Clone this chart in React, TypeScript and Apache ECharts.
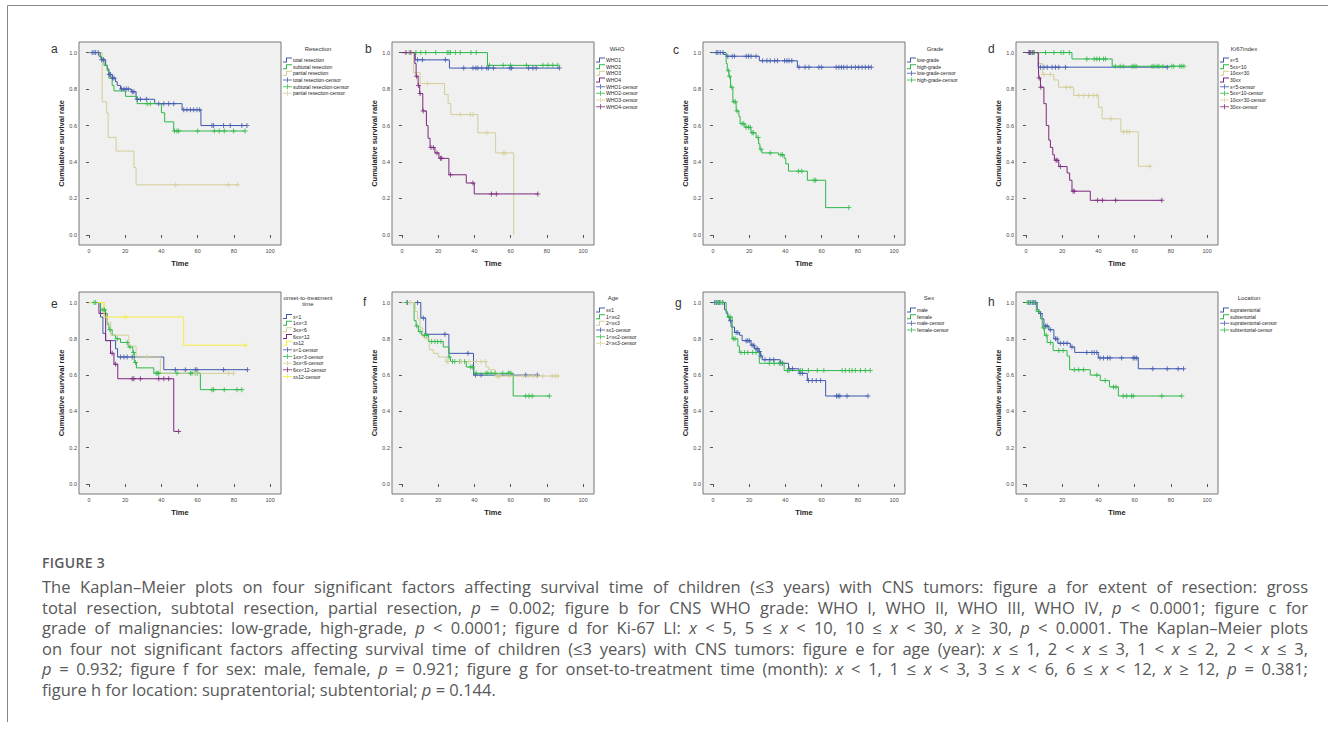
import React, { useEffect, useRef } from 'react';
import * as echarts from 'echarts';

// ---------- tick values ----------
const TIME_TICKS = [0, 20, 40, 60, 80, 100];
const RATE_TICKS = [0, 0.2, 0.4, 0.6, 0.8, 1.0];

// ---------- a: Resection ----------
const aTotalT = [0, 5.5, 6.8, 9.2, 10.1, 11, 12.8, 14.7, 15.6, 17.4, 23.4, 26, 36.3, 51.4, 61.8];
const aTotalS = [1, 0.98, 0.96, 0.93, 0.91, 0.88, 0.86, 0.84, 0.82, 0.8, 0.785, 0.744, 0.72, 0.686, 0.6];
const aTotalC = [1.8, 2.8, 3.7, 5.1, 7.0, 7.9, 11.2, 11.9, 13.0, 13.8, 18, 19.3, 20.6, 21.7, 23.9, 24.8, 26.6, 28.4, 31.7, 38.5, 41.3, 44, 46.8, 52.3, 54.1, 56, 57.8, 59.6, 61.1, 67.9, 68.8, 74.3, 78, 84.4, 87.2];
const aSubT = [0, 6.4, 8.3, 10.1, 11, 12.8, 13.8, 20.2, 26.6, 40, 41.8, 46.8];
const aSubS = [1, 0.97, 0.93, 0.9, 0.86, 0.82, 0.79, 0.76, 0.72, 0.67, 0.62, 0.57];
const aSubC = [32.1, 33.9, 47.2, 48.6, 49.5, 60, 69.2, 71.9, 74.7, 79.8, 86.2];
const aPartT = [0, 7.3, 9.7, 10.6, 15, 24.8, 26];
const aPartS = [1, 0.73, 0.67, 0.535, 0.46, 0.37, 0.275];
const aPartC = [47.7, 77, 82];

// ---------- b: WHO ----------
const bW1T = [0, 7.3, 26.2];
const bW1S = [1, 0.96, 0.915];
const bW1C = [8.6, 11.3, 24, 34.1, 39.2, 40.8, 41.9, 44.1, 46.8, 47.7, 50.5, 59.6, 60.5, 69.9, 72.3, 74.1, 86.9];
const bW2T = [0, 47.2];
const bW2S = [1, 0.93];
const bW2C = [4, 7.7, 10.4, 13.1, 18.6, 25, 25.9, 26.8, 29.5, 32.2, 38.1, 41, 48.3, 55.9, 59.9, 68.7, 77.8, 80.5, 83.2, 86];
const bW3T = [0, 6.4, 10, 23.5, 25.5, 27, 41.9, 51.7, 61.7];
const bW3S = [1, 0.89, 0.83, 0.77, 0.72, 0.66, 0.56, 0.45, 0];
const bW3C = [4.5, 14, 32.2, 37.7, 39.2, 46.8, 55.9, 56.8];
const bW4T = [0, 7.1, 7.8, 8.9, 9.8, 11.5, 13.5, 14.4, 15.5, 18.2, 20.4, 25.9, 35.5, 39.9];
const bW4S = [1, 0.94, 0.87, 0.82, 0.775, 0.68, 0.6, 0.53, 0.48, 0.45, 0.42, 0.33, 0.285, 0.225];
const bW4C = [2.2, 4.9, 8.0, 9.1, 10.0, 11.7, 16.0, 17.3, 19.3, 21.3, 21.9, 26.8, 39.2, 49.4, 52.1, 75];

// ---------- c: Grade ----------
const cLowT = [0, 5.9, 7.3, 25.6, 46.6];
const cLowS = [1, 0.99, 0.98, 0.955, 0.92];
const cLowC = [1.8, 2.7, 4, 5.5, 8.2, 10.6, 11.9, 18.3, 19.6, 21, 23.8, 27.4, 29.8, 31.6, 34, 35.6, 39.5, 40.8, 42, 43.5, 47.5, 50.8, 53, 58.5, 60, 68, 69.5, 70.9, 72.2, 74, 76.4, 78.6, 80.4, 82.3, 84.1, 85.9, 87.4];
const cHighT = [0, 7.3, 7.9, 8.8, 9.7, 11, 12.8, 14.3, 15, 17.7, 21, 23.8, 25.2, 25.9, 27, 36.2, 39.3, 40.2, 41.7, 52.1, 62.2];
const cHighS = [1, 0.94, 0.9, 0.87, 0.81, 0.73, 0.68, 0.65, 0.61, 0.59, 0.56, 0.535, 0.5, 0.47, 0.45, 0.44, 0.42, 0.39, 0.35, 0.3, 0.15];
const cHighC = [8.6, 9.1, 10.4, 11.5, 12.4, 13.3, 16.1, 17, 18.3, 19.6, 20.5, 21.6, 22.3, 24.9, 26.5, 31.6, 37.5, 38.4, 47.2, 49, 55.8, 56.7, 75];

// ---------- d: Ki67index ----------
const dLt5T = [0, 6.8];
const dLt5S = [1, 0.92];
const dLt5C = [1.6, 2.6, 4.4, 8, 9.9, 11.7, 14.4, 16.3, 18.1, 21.8, 78];
const d5to10T = [0, 25.4, 47.6];
const d5to10S = [1, 0.965, 0.925];
const d5to10C = [2.6, 4.4, 10.8, 15.4, 19.4, 20.8, 23.9, 33.6, 37.7, 39.1, 40.6, 42.8, 43.9, 49.3, 52, 53.7, 58.6, 59.7, 60.8, 69.6, 70.7, 72.4, 73.4, 75.6, 80.5, 81.6, 84.9, 86, 87.2];
const d10to30T = [0, 7.1, 9, 15.4, 18, 26.3, 40, 42, 52.4, 62];
const d10to30S = [1, 0.94, 0.88, 0.85, 0.81, 0.765, 0.7, 0.637, 0.566, 0.377];
const d10to30C = [9.9, 13.5, 22.3, 24.5, 29.1, 31.8, 34.6, 37.3, 39.1, 47, 53.8, 55.7, 57.1, 68.5];
const d30T = [0, 6.8, 7.1, 8, 9.9, 11.2, 12.6, 13.5, 14.8, 15.7, 18.1, 22.7, 24.1, 25.4, 35.5];
const d30S = [1, 0.93, 0.86, 0.81, 0.72, 0.6, 0.52, 0.48, 0.44, 0.41, 0.375, 0.34, 0.3, 0.24, 0.19];
const d30C = [2, 3.5, 7.3, 8.2, 16.6, 17.2, 19, 26, 26.7, 39.5, 42.2, 49.5, 75];

// ---------- e: onset-to-treatment time ----------
const eLt1T = [0, 6.4, 7.7, 9.2, 14.7, 15.8, 41.3];
const eLt1S = [1, 0.92, 0.83, 0.79, 0.745, 0.7, 0.63];
const eLt1C = [17.4, 19.3, 21.1, 23.9, 47.7, 53.2, 58.7, 59.6, 74.3, 87.5];
const e1to3T = [0, 6.4, 9.2, 10.1, 11, 12.8, 14.7, 17.4, 21.7, 24.2, 25, 26.2, 35.8, 61.5];
const e1to3S = [1, 0.96, 0.94, 0.88, 0.85, 0.82, 0.8, 0.78, 0.755, 0.725, 0.67, 0.64, 0.61, 0.52];
const e1to3C = [2.8, 3.7, 7.7, 8.6, 11.6, 15.6, 21.1, 22.6, 24.6, 25.7, 37.1, 38, 38.5, 48.6, 56, 56.9, 58.7, 60, 67.9, 68.8, 74.7, 81.7, 84.4];
const e3to6T = [0, 8.3, 10.1, 12, 22, 26, 39.4];
const e3to6S = [1, 0.92, 0.89, 0.82, 0.76, 0.7, 0.61];
const e3to6C = [32.1, 58.7, 59.6, 77, 79.8];
const e6to12T = [0, 5.5, 9.2, 11.9, 13.8, 15.9, 46.8];
const e6to12S = [1, 0.94, 0.79, 0.72, 0.66, 0.58, 0.29];
const e6to12C = [12.8, 14.7, 23.9, 24.8, 28.4, 38.5, 41.3, 44, 49.5];
const eGe12T = [0, 8.3, 52.3];
const eGe12S = [1, 0.92, 0.765];
const eGe12C = [20.2, 86.6];

// ---------- f: Age ----------
const fLe1T = [0, 10.4, 13.1, 25.9, 39.5];
const fLe1S = [1, 0.915, 0.825, 0.72, 0.6];
const fLe1C = [3.1, 8.6, 11.8, 23.7, 36.4, 40.6, 43.7, 68.3, 74.7];
const f1to2T = [0, 6.7, 7.8, 9.1, 10.9, 14.6, 22.8, 25.9, 26.8, 35.5, 39.7, 61.4];
const f1to2S = [1, 0.9, 0.87, 0.84, 0.82, 0.785, 0.755, 0.7, 0.675, 0.645, 0.61, 0.485];
const f1to2C = [2.7, 8.2, 10, 12.4, 13.7, 16.4, 18.2, 19.7, 21.5, 26, 27.9, 29.1, 31.9, 34.6, 37.9, 38.8, 41, 46.4, 47.4, 49.2, 51.4, 55.6, 58.7, 59.2, 60.1, 68.3, 70.1, 71.9, 81.4];
const f2to3T = [0, 7.3, 8.6, 10, 11.5, 12.8, 15.1, 17.3, 20, 24.2, 46.4, 47.9, 51.4];
const f2to3S = [1, 0.95, 0.91, 0.86, 0.81, 0.8, 0.74, 0.72, 0.7, 0.675, 0.645, 0.63, 0.595];
const f2to3C = [4.6, 25, 25.5, 32.8, 37, 41, 43.7, 46.1, 52.5, 53.2, 54.1, 59.2, 67, 69.6, 72.3, 74.1, 77.8, 82.9, 84.7, 86.2];

// ---------- g: Sex ----------
const gMaleT = [0, 6.4, 7.3, 8.2, 9.1, 10, 11.9, 14.6, 16.1, 21, 22.9, 25.4, 26.3, 27.2, 37.1, 41.7, 47.5, 52.1, 62.2];
const gMaleS = [1, 0.96, 0.94, 0.92, 0.9, 0.865, 0.835, 0.82, 0.79, 0.765, 0.745, 0.73, 0.705, 0.685, 0.665, 0.635, 0.61, 0.57, 0.485];
const gMaleC = [0.9, 1.8, 2.7, 3.7, 5.5, 9.7, 12.8, 13.7, 18.3, 19.2, 20.1, 21.6, 22.5, 23.8, 24.7, 25.6, 26.5, 28.7, 31.4, 33.5, 37.5, 38.4, 42, 43.9, 48.1, 49.4, 52.7, 54.8, 57, 59.4, 68.2, 69.1, 70, 74, 85.6];
const gFemT = [0, 7.3, 8.1, 10.6, 13.7, 14.6, 25.6, 39.3];
const gFemS = [1, 0.95, 0.92, 0.8, 0.76, 0.725, 0.665, 0.625];
const gFemC = [1.8, 3.1, 4, 5.1, 8.8, 9.5, 11.3, 12.2, 15.5, 17.4, 19.2, 21.9, 23.8, 31.1, 33.8, 36.6, 38.4, 41.1, 42, 48.4, 49.4, 52.7, 57.6, 61.2, 71.3, 73.1, 75.3, 76.8, 78.6, 81.4, 84.1, 86.8];

// ---------- h: Location ----------
const hSupT = [0, 6.2, 7.1, 8.9, 9.9, 12.6, 15.4, 17.6, 24.5, 26.9, 39.9, 62];
const hSupS = [1, 0.96, 0.94, 0.91, 0.87, 0.85, 0.8, 0.775, 0.755, 0.725, 0.695, 0.635];
const hSupC = [1.6, 2.6, 3.5, 4.4, 5.3, 8, 10.8, 11.7, 13.5, 16.3, 17.2, 19, 20.8, 22.7, 25.4, 33.6, 36.4, 37.7, 39.1, 40.9, 42.8, 45, 46.4, 52.8, 59.2, 60.1, 61.1, 70, 78, 84, 87];
const hSubT = [0, 5.7, 8, 9, 10.2, 11.7, 15, 22.7, 24.1, 35.5, 41, 46.1, 51];
const hSubS = [1, 0.95, 0.91, 0.86, 0.82, 0.78, 0.735, 0.705, 0.63, 0.6, 0.57, 0.535, 0.485];
const hSubC = [0.7, 1.6, 4.4, 7.1, 9.9, 11.2, 13.5, 18.1, 20.5, 26.7, 29.1, 31.8, 39.1, 43.7, 48.3, 49.7, 53.7, 55.6, 58.3, 59.2, 75, 86];

// ---------- styles ----------
const BLUE = '#3E58AC';
const GREEN = '#2EB848';
const TAN = '#D3CE97';
const PURPLE = '#7C287D';
const YELLOW = '#F3EE3A';
const FONT = '"Liberation Sans", Arial, sans-serif';

type Group = { name: string; color: string; t: number[]; s: number[]; c: number[] };
type Panel = {
  letter: string; title: string; col: number; row: number; groups: Group[];
  letterX: number; letterY: number; titleX: number; titleY: number; legendTop: number;
};

const panels: Panel[] = [
  { letter: 'a', title: 'Resection', col: 0, row: 0, letterX: 55, letterY: 50, titleX: 318, titleY: 49, legendTop: 57.5, groups: [
    { name: 'total resection', color: BLUE, t: aTotalT, s: aTotalS, c: aTotalC },
    { name: 'subtotal resection', color: GREEN, t: aSubT, s: aSubS, c: aSubC },
    { name: 'partial resection', color: TAN, t: aPartT, s: aPartS, c: aPartC },
  ] },
  { letter: 'b', title: 'WHO', col: 1, row: 0, letterX: 369, letterY: 50, titleX: 617, titleY: 49, legendTop: 57.5, groups: [
    { name: 'WHO1', color: BLUE, t: bW1T, s: bW1S, c: bW1C },
    { name: 'WHO2', color: GREEN, t: bW2T, s: bW2S, c: bW2C },
    { name: 'WHO3', color: TAN, t: bW3T, s: bW3S, c: bW3C },
    { name: 'WHO4', color: PURPLE, t: bW4T, s: bW4S, c: bW4C },
  ] },
  { letter: 'c', title: 'Grade', col: 2, row: 0, letterX: 677, letterY: 51, titleX: 935, titleY: 49, legendTop: 57.5, groups: [
    { name: 'low-grade', color: BLUE, t: cLowT, s: cLowS, c: cLowC },
    { name: 'high-grade', color: GREEN, t: cHighT, s: cHighS, c: cHighC },
  ] },
  { letter: 'd', title: 'Ki67index', col: 3, row: 0, letterX: 992, letterY: 50, titleX: 1244, titleY: 49, legendTop: 57.5, groups: [
    { name: 'x<5', color: BLUE, t: dLt5T, s: dLt5S, c: dLt5C },
    { name: '5≤x<10', color: GREEN, t: d5to10T, s: d5to10S, c: d5to10C },
    { name: '10≤x<30', color: TAN, t: d10to30T, s: d10to30S, c: d10to30C },
    { name: '30≤x', color: PURPLE, t: d30T, s: d30S, c: d30C },
  ] },
  { letter: 'e', title: 'onset-to-treatment\ntime', col: 0, row: 1, letterX: 55, letterY: 305, titleX: 308, titleY: 301, legendTop: 314, groups: [
    { name: 'x<1', color: BLUE, t: eLt1T, s: eLt1S, c: eLt1C },
    { name: '1≤x<3', color: GREEN, t: e1to3T, s: e1to3S, c: e1to3C },
    { name: '3≤x<6', color: TAN, t: e3to6T, s: e3to6S, c: e3to6C },
    { name: '6≤x<12', color: PURPLE, t: e6to12T, s: e6to12S, c: e6to12C },
    { name: 'x≥12', color: YELLOW, t: eGe12T, s: eGe12S, c: eGe12C },
  ] },
  { letter: 'f', title: 'Age', col: 1, row: 1, letterX: 367, letterY: 303, titleX: 613, titleY: 298, legendTop: 307.5, groups: [
    { name: 'x≤1', color: BLUE, t: fLe1T, s: fLe1S, c: fLe1C },
    { name: '1<x≤2', color: GREEN, t: f1to2T, s: f1to2S, c: f1to2C },
    { name: '2<x≤3', color: TAN, t: f2to3T, s: f2to3S, c: f2to3C },
  ] },
  { letter: 'g', title: 'Sex', col: 2, row: 1, letterX: 679, letterY: 304, titleX: 929, titleY: 298, legendTop: 307.5, groups: [
    { name: 'male', color: BLUE, t: gMaleT, s: gMaleS, c: gMaleC },
    { name: 'female', color: GREEN, t: gFemT, s: gFemS, c: gFemC },
  ] },
  { letter: 'h', title: 'Location', col: 3, row: 1, letterX: 992, letterY: 303, titleX: 1249, titleY: 298, legendTop: 307.5, groups: [
    { name: 'supratentorial', color: BLUE, t: hSupT, s: hSupS, c: hSupC },
    { name: 'subtentorial', color: GREEN, t: hSubT, s: hSubS, c: hSubC },
  ] },
];

const COL_LEFT = [79, 392, 703, 1016];
const ROW_TOP = [42, 292];
const ROW_H = [203, 202];
const PLOT_W = 202;

const PLUS = 'path://M0,4L10,4L10,6L0,6Z M4,0L6,0L6,10L4,10Z';
const PLUS_ICON = 'path://M0,4L18,4L18,6L0,6Z M8,0L10,0L10,10L8,10Z';
const STEP_ICON = 'path://M0,8L6,8L6,0L18,0L18,2L8,2L8,10L0,10Z';

function survivalAt(t: number, times: number[], surv: number[]) {
  let v = surv[0];
  for (let i = 0; i < times.length; i++) if (times[i] <= t) v = surv[i];
  return v;
}

function curvePoints(g: Group) {
  const pts = g.t.map((t, i) => [t, g.s[i]]);
  const lastEvent = g.t[g.t.length - 1];
  const lastC = g.c.length ? Math.max(...g.c) : lastEvent;
  if (lastC > lastEvent) pts.push([lastC, g.s[g.s.length - 1]]);
  return pts;
}

const CAPTION_LINES = [
  'The Kaplan–Meier plots on four significant factors affecting survival time of children (≤3 years) with CNS tumors: figure a for extent of resection: gross',
  'total resection, subtotal resection, partial resection, p = 0.002; figure b for CNS WHO grade: WHO I, WHO II, WHO III, WHO IV, p < 0.0001; figure c for',
  'grade of malignancies: low-grade, high-grade, p < 0.0001; figure d for Ki-67 LI: x < 5, 5 ≤ x < 10, 10 ≤ x < 30, x ≥ 30, p < 0.0001. The Kaplan–Meier plots',
  'on four not significant factors affecting survival time of children (≤3 years) with CNS tumors: figure e for age (year): x ≤ 1, 2 < x ≤ 3, 1 < x ≤ 2, 2 < x ≤ 3,',
  'p = 0.932; figure f for sex: male, female, p = 0.921; figure g for onset-to-treatment time (month): x < 1, 1 ≤ x < 3, 3 ≤ x < 6, 6 ≤ x < 12, x ≥ 12, p = 0.381;',
  'figure h for location: supratentorial; subtentorial; p = 0.144.',
];

function renderLine(line: string) {
  const parts = line.split(/(\bp\b|\bx\b)/);
  return parts.map((p, i) => (p === 'p' || p === 'x' ? <i key={i}>{p}</i> : <React.Fragment key={i}>{p}</React.Fragment>));
}

export default function App() {
  const ref = useRef<HTMLDivElement>(null);

  useEffect(() => {
    document.body.style.margin = '0';
    if (!ref.current) return;
    const chart = echarts.init(ref.current, undefined, { renderer: 'svg' });

    const grid: any[] = [];
    const xAxis: any[] = [];
    const yAxis: any[] = [];
    const series: any[] = [];
    const legend: any[] = [];
    const graphic: any[] = [];

    panels.forEach((p, i) => {
      const left = COL_LEFT[p.col];
      const top = ROW_TOP[p.row];
      grid.push({
        left, top, width: PLOT_W, height: ROW_H[p.row], show: true,
        backgroundColor: '#F0F0F0', borderColor: '#777777', borderWidth: 1, containLabel: false,
      });
      xAxis.push({
        type: 'value', gridIndex: i, min: -5.5, max: 106,
        name: 'Time', nameLocation: 'middle', nameGap: 14,
        nameTextStyle: { fontSize: 7.5, fontWeight: 'bold', color: '#222', fontFamily: FONT },
        axisLine: { show: false },
        axisTick: { show: true, inside: false, length: 3, customValues: TIME_TICKS, lineStyle: { color: '#555', width: 1 } },
        axisLabel: { fontSize: 5.5, color: '#444', margin: 2.5, customValues: TIME_TICKS, fontFamily: FONT },
        splitLine: { show: false },
      });
      yAxis.push({
        type: 'value', gridIndex: i, min: -0.055, max: 1.058,
        name: 'Cumulative survival rate', nameLocation: 'middle', nameGap: 13,
        nameTextStyle: { fontSize: 7.5, fontWeight: 'bold', color: '#222', fontFamily: FONT },
        axisLine: { show: false },
        axisTick: { show: true, inside: false, length: 3, customValues: RATE_TICKS, lineStyle: { color: '#555', width: 1 } },
        axisLabel: { fontSize: 5.5, color: '#444', margin: 2, customValues: RATE_TICKS, fontFamily: FONT, formatter: (v: number) => v.toFixed(1) },
        splitLine: { show: false },
      });

      p.groups.forEach((g) => {
        series.push({
          type: 'line', name: g.name, xAxisIndex: i, yAxisIndex: i, step: 'end',
          data: curvePoints(g), showSymbol: false, symbol: 'none', silent: true,
          lineStyle: { color: g.color, width: 1 }, itemStyle: { color: g.color }, z: 2,
        });
      });
      p.groups.forEach((g) => {
        series.push({
          type: 'scatter', name: g.name + '-censor', xAxisIndex: i, yAxisIndex: i,
          data: g.c.map((t) => [t, survivalAt(t, g.t, g.s)]),
          symbol: PLUS, symbolSize: 5, silent: true, itemStyle: { color: g.color }, z: 3,
        });
      });

      legend.push({
        orient: 'vertical', left: left + PLOT_W + 2, top: p.legendTop, padding: 0,
        itemWidth: 9, itemHeight: 5, itemGap: 1.67, selectedMode: false,
        itemStyle: { borderWidth: 0 },
        textStyle: { fontSize: 5, color: '#222', fontFamily: FONT, padding: [0, 0, 0, -4] },
        data: [
          ...p.groups.map((g) => ({ name: g.name, icon: STEP_ICON })),
          ...p.groups.map((g) => ({ name: g.name + '-censor', icon: PLUS_ICON })),
        ],
      });

      graphic.push({
        type: 'text', left: p.letterX - 4, top: p.letterY - 7,
        style: { text: p.letter, fontSize: 12, fill: '#333', fontFamily: FONT },
      });
      graphic.push({
        type: 'text', x: p.titleX, y: p.titleY,
        style: { text: p.title, fontSize: 6, fill: '#333', fontFamily: FONT, align: 'center', verticalAlign: 'middle', lineHeight: 6.6 },
      });
    });

    graphic.push({ type: 'line', shape: { x1: 7.5, y1: 5.5, x2: 1328, y2: 5.5 }, style: { stroke: '#888', lineWidth: 1 } });
    graphic.push({ type: 'line', shape: { x1: 7.5, y1: 5.5, x2: 7.5, y2: 722 }, style: { stroke: '#888', lineWidth: 1 } });

    chart.setOption({
      animation: false,
      grid, xAxis, yAxis, series, legend, graphic,
      textStyle: { fontFamily: FONT },
    });

    return () => chart.dispose();
  }, []);

  return (
    <div style={{ position: 'relative', width: 1328, height: 740, background: '#fff', overflow: 'hidden' }}>
      <div ref={ref} style={{ position: 'absolute', left: 0, top: 0, width: 1328, height: 740 }} />
      <div style={{ position: 'absolute', left: 42, top: 554, fontFamily: '"Open Sans", sans-serif', fontSize: 14, fontWeight: 600, color: '#5a5a5a', lineHeight: '18px', letterSpacing: 0.3 }}>
        FIGURE 3
      </div>
      <div style={{ position: 'absolute', left: 42, top: 577, width: 1266, fontFamily: '"Open Sans", sans-serif', fontSize: 16.5, color: '#585858', lineHeight: '20.5px' }}>
        {CAPTION_LINES.map((l, i) => (
          <div key={i} style={{ whiteSpace: 'nowrap', textAlign: i < CAPTION_LINES.length - 1 ? 'justify' : 'left', textAlignLast: i < CAPTION_LINES.length - 1 ? 'justify' : 'left' }}>
            {renderLine(l)}
          </div>
        ))}
      </div>
    </div>
  );
}
